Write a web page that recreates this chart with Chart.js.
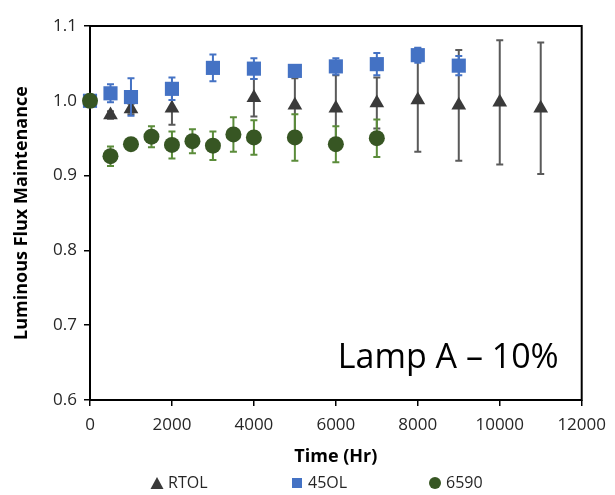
<!DOCTYPE html>
<html>
<head>
<meta charset="utf-8">
<script src="https://cdn.jsdelivr.net/npm/chart.js@4.4.1/dist/chart.umd.min.js"></script>
<style>
  html, body { margin: 0; padding: 0; background: #fff; }
  canvas { display: block; }
</style>
</head>
<body>
<canvas id="chart" width="615" height="495"></canvas>
<script>
// ===== DATA =====

const RTOL_HOURS = [0, 500, 1000, 2000, 4000, 5000, 6000, 7000, 8000, 9000, 10000, 11000];
const RTOL_FLUX  = [1.000, 0.981, 0.989, 0.990, 1.004, 0.994, 0.990, 0.997, 1.001, 0.994, 0.998, 0.990];
const RTOL_ERR   = [0, 0.005, 0.007, 0.022, 0.025, 0.036, 0.044, 0.034, 0.069, 0.074, 0.083, 0.088];

const OL45_HOURS = [0, 500, 1000, 2000, 3000, 4000, 5000, 6000, 7000, 8000, 9000];
const OL45_FLUX  = [1.000, 1.010, 1.005, 1.016, 1.044, 1.043, 1.040, 1.046, 1.049, 1.061, 1.047];
const OL45_ERR   = [0, 0.012, 0.025, 0.015, 0.018, 0.014, 0.005, 0.011, 0.015, 0.010, 0.013];

const S6590_HOURS = [0, 500, 1000, 1500, 2000, 2500, 3000, 3500, 4000, 5000, 6000, 7000];
const S6590_FLUX  = [1.000, 0.926, 0.942, 0.952, 0.941, 0.946, 0.940, 0.955, 0.951, 0.951, 0.942, 0.950];
const S6590_ERR   = [0, 0.013, 0.005, 0.014, 0.018, 0.016, 0.019, 0.023, 0.023, 0.031, 0.024, 0.025];

const SERIES_NAMES = ['RTOL', '45OL', '6590'];
const X_TICKS = [0, 2000, 4000, 6000, 8000, 10000, 12000];
const Y_TICKS = [0.6, 0.7, 0.8, 0.9, 1.0, 1.1];
const NOTE_TEXT = 'Lamp A \u2013 10%';

// ===== STYLE =====

const FONT = "'Open Sans', sans-serif";
const TEXT_COLOR = '#262626';
Chart.defaults.font.family = FONT;

function toPoints(xs, ys) {
  return xs.map((x, i) => ({ x, y: ys[i] }));
}

// vertical error bars, drawn just before each dataset's markers
const errorBars = {
  id: 'errorBars',
  beforeDatasetDraw(chart, args) {
    const ds = chart.data.datasets[args.index];
    if (!ds.errors) return;
    const { ctx, scales: { x, y } } = chart;
    ctx.save();
    ctx.strokeStyle = ds.errorColor;
    ctx.lineWidth = 2;
    ds.data.forEach((p, i) => {
      const e = ds.errors[i];
      if (!e) return;
      const px = x.getPixelForValue(p.x);
      const top = y.getPixelForValue(p.y + e);
      const bot = y.getPixelForValue(p.y - e);
      ctx.beginPath();
      ctx.moveTo(px, top); ctx.lineTo(px, bot);
      ctx.moveTo(px - 3.5, top); ctx.lineTo(px + 3.5, top);
      ctx.moveTo(px - 3.5, bot); ctx.lineTo(px + 3.5, bot);
      ctx.stroke();
    });
    ctx.restore();
  }
};

// black frame around the plot area
const plotFrame = {
  id: 'plotFrame',
  beforeDatasetsDraw(chart) {
    const { ctx, chartArea: a } = chart;
    ctx.save();
    ctx.strokeStyle = '#000';
    ctx.lineWidth = 2;
    ctx.strokeRect(a.left, a.top, a.right - a.left, a.bottom - a.top);
    ctx.restore();
  }
};

// Excel-style legend row under the axis title, plus the "Lamp A" note
const legendAndNote = {
  id: 'legendAndNote',
  afterDraw(chart) {
    const { ctx, chartArea: a } = chart;
    ctx.save();
    ctx.fillStyle = '#000';
    ctx.font = `34px ${FONT}`;
    ctx.textAlign = 'right';
    ctx.textBaseline = 'alphabetic';
    ctx.fillText(NOTE_TEXT, a.right - 23, a.bottom - 32);

    const y = 483;
    const xs = [157, 297, 435];
    ctx.font = `16px ${FONT}`;
    ctx.textAlign = 'left';
    ctx.textBaseline = 'middle';
    chart.data.datasets.forEach((ds, i) => {
      const cx = xs[i];
      ctx.fillStyle = ds.backgroundColor;
      ctx.beginPath();
      if (ds.pointStyle === 'triangle') {
        ctx.moveTo(cx, y - 6); ctx.lineTo(cx + 6.5, y + 6); ctx.lineTo(cx - 6.5, y + 6);
        ctx.closePath();
      } else if (ds.pointStyle === 'rect') {
        ctx.rect(cx - 5, y - 5, 10, 10);
      } else {
        ctx.arc(cx, y, 6, 0, Math.PI * 2);
      }
      ctx.fill();
      ctx.fillStyle = TEXT_COLOR;
      ctx.fillText(ds.label, cx + 11, y);
    });
    ctx.restore();
  }
};

new Chart(document.getElementById('chart'), {
  type: 'scatter',
  data: {
    datasets: [
      {
        label: SERIES_NAMES[0],
        data: toPoints(RTOL_HOURS, RTOL_FLUX),
        errors: RTOL_ERR,
        errorColor: '#5a5a5a',
        pointStyle: 'triangle',
        pointRadius: 8.5,
        backgroundColor: '#3a3a3a',
        borderColor: '#3a3a3a',
        borderWidth: 0,
        order: 3,
        clip: false
      },
      {
        label: SERIES_NAMES[1],
        data: toPoints(OL45_HOURS, OL45_FLUX),
        errors: OL45_ERR,
        errorColor: '#4472C4',
        pointStyle: 'rect',
        pointRadius: 10,
        backgroundColor: '#4472C4',
        borderColor: '#4472C4',
        borderWidth: 0,
        order: 2,
        clip: false
      },
      {
        label: SERIES_NAMES[2],
        data: toPoints(S6590_HOURS, S6590_FLUX),
        errors: S6590_ERR,
        errorColor: '#5b8c3a',
        pointStyle: 'circle',
        pointRadius: 8,
        backgroundColor: '#375623',
        borderColor: '#375623',
        borderWidth: 0,
        order: 1,
        clip: false
      }
    ]
  },
  options: {
    responsive: false,
    animation: false,
    devicePixelRatio: 1,
    layout: { padding: { top: 26, right: 30, bottom: 25, left: 0 } },
    plugins: {
      legend: { display: false },
      tooltip: { enabled: false }
    },
    scales: {
      x: {
        type: 'linear',
        min: 0,
        max: 12000,
        afterBuildTicks: s => { s.ticks = X_TICKS.map(v => ({ value: v })); },
        afterFit: s => { s.height = 70; },
        ticks: { color: TEXT_COLOR, font: { size: 17 }, padding: 9, callback: v => String(v) },
        grid: { drawOnChartArea: false, tickLength: 6, color: '#000', lineWidth: 1.5 },
        border: { display: false },
        title: {
          display: true, text: 'Time (Hr)', color: '#000',
          font: { size: 18, weight: 'bold' }, padding: { top: 0, bottom: 2 }
        }
      },
      y: {
        type: 'linear',
        min: 0.6,
        max: 1.1,
        afterBuildTicks: s => { s.ticks = Y_TICKS.map(v => ({ value: v })); },
        afterFit: s => { s.width = 90; },
        ticks: { color: TEXT_COLOR, font: { size: 17 }, padding: 7, callback: v => v.toFixed(1) },
        grid: { drawOnChartArea: false, tickLength: 6, color: '#000', lineWidth: 1.5 },
        border: { display: false },
        title: {
          display: true, text: 'Luminous Flux Maintenance', color: '#000',
          font: { size: 18, weight: 'bold' }, padding: { top: 11, bottom: 0 }
        }
      }
    }
  },
  plugins: [errorBars, plotFrame, legendAndNote]
});
</script>
</body>
</html>
